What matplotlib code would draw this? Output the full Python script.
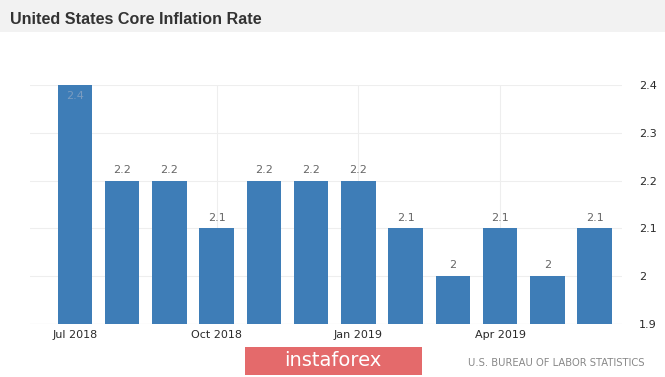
import numpy as np
import matplotlib as mpl
mpl.use('agg')
import matplotlib.pyplot as plt
from matplotlib.patches import Rectangle

months = ['Jul 2018', 'Aug 2018', 'Sep 2018', 'Oct 2018', 'Nov 2018', 'Dec 2018',
          'Jan 2019', 'Feb 2019', 'Mar 2019', 'Apr 2019', 'May 2019', 'Jun 2019']
rates = [2.4, 2.2, 2.2, 2.1, 2.2, 2.2, 2.2, 2.1, 2.0, 2.1, 2.0, 2.1]
tick_idx = [0, 3, 6, 9]
yticks = [1.9, 2.0, 2.1, 2.2, 2.3, 2.4]

W, H = 665, 377
fig = plt.figure(figsize=(W / 100, H / 100), dpi=100)
fig.patch.set_facecolor('white')

# header band
fig.patches.append(Rectangle((0, 1 - 32 / H), 1, 32 / H, transform=fig.transFigure,
                             facecolor='#f2f2f2', edgecolor='none', zorder=0))
fig.text(10 / W, 1 - 19 / H, 'United States Core Inflation Rate', fontsize=11.6,
         fontweight='bold', color='#333333', va='center', ha='left',
         family='Liberation Sans')

ax = fig.add_axes([30 / W, (H - 324) / H, 592 / W, 239 / H])
x = np.arange(len(rates))
ax.bar(x, rates, width=0.73, color='#3e7db7', zorder=2)
ax.set_xlim(-0.953, 11.58)
ax.set_ylim(1.9, 2.4)

for xi, v in zip(x, rates):
    lab = f'{v:g}'
    if v >= 2.4:
        ax.text(xi, v - 0.012, lab, ha='center', va='top', fontsize=8,
                color='#7a9cc0', clip_on=False)
    else:
        ax.text(xi, v + 0.012, lab, ha='center', va='bottom', fontsize=8,
                color='#666666')

ax.yaxis.tick_right()
ax.set_yticks(yticks)
ax.set_yticklabels([f'{t:g}' for t in yticks])
ax.set_xticks(tick_idx)
ax.set_xticklabels([months[i] for i in tick_idx])
ax.tick_params(axis='both', length=0, labelsize=8, colors='#2a2a2a')
ax.tick_params(axis='y', pad=12)
ax.tick_params(axis='x', pad=4)
ax.grid(True, color='#eeeeee', linewidth=0.8, zorder=0)
for s in ax.spines.values():
    s.set_visible(False)
ax.axhline(1.9, color='#e6e6e6', linewidth=0.8, zorder=1)

# footer
fig.patches.append(Rectangle((245 / W, 1 - 375 / H), 177 / W, 28 / H,
                             transform=fig.transFigure, facecolor='#e46a6b',
                             edgecolor='none', zorder=3))
fig.text(333 / W, 1 - 361 / H, 'instaforex', fontsize=14, color='white',
         ha='center', va='center', zorder=4)
fig.text(645 / W, 1 - 363 / H, 'U.S. BUREAU OF LABOR STATISTICS', fontsize=7.2,
         color='#888888', ha='right', va='center')

fig.savefig('out.png', dpi=100)
